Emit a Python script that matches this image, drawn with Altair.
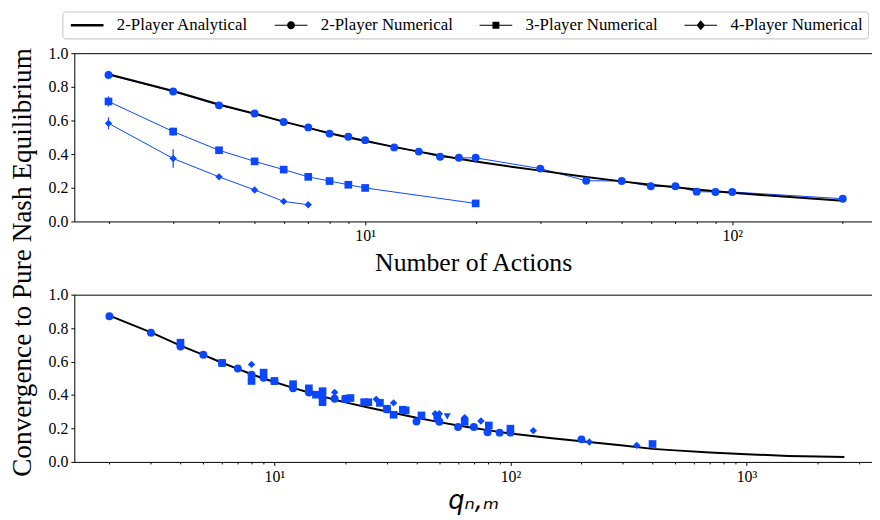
import altair as alt
import pandas as pd

BLUE = "#0a47ff"
SERIF = "Liberation Serif"

S_A = "2-Player Analytical"
S2 = "2-Player Numerical"
S3 = "3-Player Numerical"
S4 = "4-Player Numerical"
S5 = "Other"

# ---- top panel: probability vs number of actions ----
n2 = [2, 3, 4, 5, 6, 7, 8, 9, 10, 12, 14, 16, 18, 20, 30, 40, 50, 60, 70, 80, 90, 100, 200]
v2 = [0.871, 0.772, 0.690, 0.641, 0.591, 0.559, 0.522, 0.503, 0.483, 0.440, 0.415, 0.384,
      0.378, 0.378, 0.314, 0.242, 0.240, 0.209, 0.209, 0.177, 0.175, 0.175, 0.135]
e2 = [0.025, 0.010, 0.012, 0.010, 0.012, 0.012, 0.022, 0.020, 0.012, 0.010, 0.010, 0.012,
      0.010, 0.010, 0.010, 0.010, 0.010, 0.010, 0.010, 0.010, 0.010, 0.010, 0.010]
n3 = [2, 3, 4, 5, 6, 7, 8, 9, 10, 20]
v3 = [0.713, 0.534, 0.423, 0.357, 0.308, 0.265, 0.240, 0.218, 0.199, 0.107]
e3 = [0.030, 0.025, 0.015, 0.010, 0.010, 0.010, 0.010, 0.010, 0.010, 0.010]
n4 = [2, 3, 4, 5, 6, 7]
v4 = [0.583, 0.374, 0.265, 0.187, 0.119, 0.099]
e4 = [0.035, 0.055, 0.015, 0.015, 0.010, 0.010]

# analytical 2-player curve
xa = [2, 3, 4, 5, 6, 7, 8, 9, 10, 12, 14, 16, 18, 20, 25, 30, 40, 50, 60, 70, 80, 90, 100,
      150, 200, 300, 400, 500, 700, 1000, 1500, 2000, 2600]
va = [0.875, 0.775, 0.695, 0.640, 0.593, 0.556, 0.524, 0.499, 0.478, 0.443, 0.415, 0.392,
      0.372, 0.356, 0.325, 0.302, 0.264, 0.238, 0.218, 0.203, 0.190, 0.179, 0.170,
      0.142, 0.123, 0.098, 0.078, 0.069, 0.056, 0.046, 0.036, 0.032, 0.029]

# ---- bottom panel: same results against q_{n,m} ----
q2 = n2
q3 = [4, 9, 16, 25, 36, 49, 64, 81, 100, 400]
q4 = [8, 27, 64, 125, 216, 343]
# additional (mixed action-count) games
qx3 = [6, 8, 10, 12, 14, 15, 16, 20, 21, 24, 28, 30, 32, 35, 42]
vx3 = [0.592, 0.484, 0.484, 0.465, 0.440, 0.402, 0.357, 0.376, 0.382, 0.357, 0.353,
       0.318, 0.282, 0.312, 0.278]
qx4 = [18, 32, 48, 50, 75]
vx4 = [0.416, 0.353, 0.288, 0.288, 0.245]
qx5 = [54]
vx5 = [0.272]

TOP_DOMAIN = [1.614, 240.2]
BOT_DOMAIN = [1.42, 3404]
TOP_MINOR = [2, 3, 4, 5, 6, 7, 8, 9, 20, 30, 40, 50, 60, 70, 80, 90, 200]
BOT_MINOR = [2, 3, 4, 5, 6, 7, 8, 9, 20, 30, 40, 50, 60, 70, 80, 90,
             200, 300, 400, 500, 600, 700, 800, 900, 2000, 3000]

LEGEND_ORDER = [S_A, S2, S3, S4]


def frame(xs, vs, series, es=None):
    d = {"x": xs, "v": vs, "series": [series] * len(xs)}
    if es is not None:
        d["e"] = es
    return pd.DataFrame(d)


num_top = pd.concat([frame(n2, v2, S2, e2), frame(n3, v3, S3, e3), frame(n4, v4, S4, e4)])
k_top = len([x for x in xa if x <= 200])
ana_top = frame(xa[:k_top], va[:k_top], S_A)
ana_bot = frame(xa, va, S_A)
num_bot = pd.concat([frame(q2, v2, S2), frame(q3, v3, S3), frame(q4, v4, S4)])
ext_bot = pd.concat([frame(qx3, vx3, S3), frame(qx4, vx4, S4), frame(qx5, vx5, S5)])
# first point of each curve, carries the legend
leg_df = pd.DataFrame({"x": [xa[0], n2[0], n3[0], n4[0]],
                       "v": [va[0], v2[0], v3[0], v4[0]],
                       "series": LEGEND_ORDER})

W = 806
H_TOP = 170
H_BOT = 169

yscale = alt.Scale(domain=[0, 1], nice=False, zero=False)
yaxis = alt.Axis(values=[0, 0.2, 0.4, 0.6, 0.8, 1.0], format=".1f", title=None,
                 tickSize=3.5, labelPadding=3, orient="left")


def Y():
    return alt.Y("v:Q", scale=yscale, axis=yaxis)


label_expr = "datum.value == 10 ? '10\u00b9' : datum.value == 100 ? '10\u00b2' : '10\u00b3'"


def major_axis(values, title, font, style, size, pad):
    return alt.Axis(orient="bottom", values=values, labelExpr=label_expr, tickSize=3.5,
                    labelPadding=3, title=title, titleFont=font, titleFontStyle=style,
                    titleFontSize=size, titlePadding=pad, titleFontWeight="normal")


def minor_axis(values):
    return alt.Axis(orient="bottom", values=values, labels=False, tickSize=2, domain=False,
                    title=None)


top_axis = alt.Axis(orient="top", ticks=False, labels=False, domain=True, title=None)

shape_scale = alt.Scale(domain=[S2, S3, S4, S5],
                        range=["circle", "square", "diamond", "triangle-down"])
size_scale = alt.Scale(domain=[S2, S3, S4, S5], range=[64, 52, 105, 52])

# legend symbols (line + marker), unit = sqrt(100)/2 = 5 px
P_THICK = "M-1,-0.25L5.6,-0.25L5.6,0.25L-1,0.25Z"
P_LINE = "M-1,-0.12L5.6,-0.12L5.6,0.12L-1,0.12Z"
P_CIRC = P_LINE + "M1.5,0A0.8,0.8,0,1,1,3.1,0A0.8,0.8,0,1,1,1.5,0Z"
P_SQR = P_LINE + "M1.6,-0.7L3.0,-0.7L3.0,0.7L1.6,0.7Z"
P_DIA = P_LINE + "M2.3,-1.0L3.15,0L2.3,1.0L1.45,0Z"

legend = alt.Legend(
    title=None, orient="none", legendX=-12, legendY=-42, direction="horizontal", columns=4,
    labelFont=SERIF, labelFontSize=17, labelColor="black", symbolSize=100,
    symbolOpacity=1, symbolStrokeWidth=0, labelOffset=33, columnPadding=23, padding=5,
    strokeColor="#cccccc", cornerRadius=3, fillColor="white",
)

xs_top = alt.Scale(type="log", domain=TOP_DOMAIN, nice=False)
xs_bot = alt.Scale(type="log", domain=BOT_DOMAIN, nice=False)

top_lines = alt.Chart(num_top).mark_line(strokeWidth=1, color=BLUE).encode(
    x=alt.X("x:Q", scale=xs_top, axis=minor_axis(TOP_MINOR)),
    y=Y(),
    detail="series:N",
)
top_ana = alt.Chart(ana_top).mark_line(color="black", strokeWidth=2).encode(
    x=alt.X("x:Q", scale=xs_top,
            axis=major_axis([10, 100], "Number of Actions", SERIF, "normal", 26, 6)),
    y=Y(),
)
top_err = alt.Chart(num_top).mark_errorbar(color=BLUE, thickness=1.2).encode(
    x=alt.X("x:Q", scale=xs_top, axis=None),
    y=alt.Y("v:Q", scale=yscale, axis=yaxis),
    yError="e:Q",
)
top_pts = alt.Chart(num_top).mark_point(filled=True, opacity=1, color=BLUE).encode(
    x=alt.X("x:Q", scale=xs_top, axis=top_axis),
    y=Y(),
    shape=alt.Shape("series:N", scale=shape_scale, legend=None),
    size=alt.Size("series:N", scale=size_scale, legend=None),
)
top_leg = alt.Chart(leg_df).mark_point(filled=True, opacity=0, size=100).encode(
    x=alt.X("x:Q", scale=xs_top, axis=None),
    y=Y(),
    shape=alt.Shape("series:N", scale=alt.Scale(domain=LEGEND_ORDER,
                                               range=[P_THICK, P_CIRC, P_SQR, P_DIA]),
                    legend=legend),
    fill=alt.Fill("series:N", scale=alt.Scale(domain=LEGEND_ORDER,
                                             range=["black", BLUE, BLUE, BLUE]),
                  legend=legend),
)
top = alt.layer(top_lines, top_ana, top_err, top_pts, top_leg).resolve_axis(
    x="independent").resolve_scale(shape="independent").properties(width=W, height=H_TOP)

bot_ana = alt.Chart(ana_bot).mark_line(color="black", strokeWidth=2).encode(
    x=alt.X("x:Q", scale=xs_bot,
            axis=major_axis([10, 100, 1000], "q\u2099,\u2098", "DejaVu Sans", "italic", 26, 4)),
    y=Y(),
)
bot_pts = alt.Chart(num_bot).mark_point(filled=True, opacity=1, color=BLUE).encode(
    x=alt.X("x:Q", scale=xs_bot, axis=minor_axis(BOT_MINOR)),
    y=Y(),
    shape=alt.Shape("series:N", scale=shape_scale, legend=None),
    size=alt.Size("series:N", scale=size_scale, legend=None),
)
bot_ext = alt.Chart(ext_bot).mark_point(filled=True, opacity=1, color=BLUE).encode(
    x=alt.X("x:Q", scale=xs_bot, axis=top_axis),
    y=Y(),
    shape=alt.Shape("series:N", scale=shape_scale, legend=None),
    size=alt.Size("series:N", scale=size_scale, legend=None),
)
bottom = alt.layer(bot_ana, bot_pts, bot_ext).resolve_axis(x="independent").properties(
    width=W, height=H_BOT)

chart = alt.vconcat(top, bottom, spacing=11).resolve_scale(
    shape="independent", size="independent", fill="independent"
).properties(
    title=alt.TitleParams("Convergence to Pure Nash Equilibrium", orient="left",
                          anchor="middle", font=SERIF, fontSize=27.5, fontWeight="normal",
                          color="black", offset=12),
    padding={"left": 0, "top": 0, "right": 0, "bottom": 0},
).configure_view(stroke=None).configure_axis(
    grid=False, labelFont=SERIF, labelFontSize=16, labelColor="black",
    domainColor="black", tickColor="black", titleColor="black", domainWidth=1, tickWidth=1,
)

chart.save("out.html", embed_options={"renderer": "svg", "actions": False})
